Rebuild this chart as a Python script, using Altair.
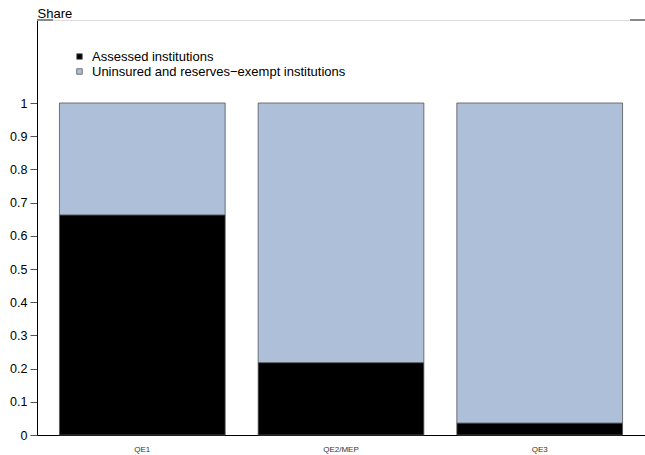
import altair as alt
import pandas as pd

programs = ["QE1", "QE2/MEP", "QE3"]
assessed = [0.663, 0.218, 0.036]
uninsured = [0.337, 0.782, 0.964]
series = ["Assessed institutions", "Uninsured and reserves\u2212exempt institutions"]
colors = ["#000000", "#adbfd9"]
y_ticks = [0, 0.1, 0.2, 0.3, 0.4, 0.5, 0.6, 0.7, 0.8, 0.9, 1]

rows = []
for i, p in enumerate(programs):
    rows.append({"program": p, "series": series[0], "value": assessed[i], "ord": 0})
    rows.append({"program": p, "series": series[1], "value": uninsured[i], "ord": 1})
df = pd.DataFrame(rows)

FONT = "Liberation Sans"

bars = alt.Chart(df).mark_bar(stroke="#555555", strokeWidth=0.8).encode(
    x=alt.X("program:N", sort=programs,
            scale=alt.Scale(paddingInner=0.166, paddingOuter=0.113),
            axis=alt.Axis(title=None, ticks=False, labelAngle=0, labelFontSize=8,
                          labelColor="#333333", labelPadding=10, domainColor="#000000",
                          domainWidth=1, labelFont=FONT)),
    y=alt.Y("value:Q", stack="zero",
            scale=alt.Scale(domain=[0, 1.25], nice=False, zero=True),
            axis=alt.Axis(values=y_ticks, title="Share", titleAngle=0, titleX=0, titleY=-3,
                          titleAlign="left", titleBaseline="alphabetic", titleFontSize=13,
                          titleFontWeight="normal", titleFont=FONT, titleColor="#000000",
                          labelFontSize=12.5, labelFont=FONT, labelColor="#000000",
                          tickSize=7, tickColor="#555555", labelPadding=3,
                          domainColor="#000000", grid=False,
                          labelExpr="datum.value == 0 ? '0' : format(datum.value, '.1~f')")),
    color=alt.Color("series:N", sort=series,
                    scale=alt.Scale(domain=series, range=colors),
                    legend=alt.Legend(title=None, orient="none", legendX=36, legendY=30,
                                      symbolType="square", symbolSize=30,
                                      symbolStrokeColor="#555555", symbolStrokeWidth=0.8,
                                      labelFontSize=13, labelFont=FONT, labelColor="#000000",
                                      labelLimit=0, rowPadding=1, labelOffset=6)),
    order=alt.Order("ord:Q", sort="ascending"),
)

tick_left = alt.Chart(df).mark_rule(color="#888888", strokeWidth=1.5).encode(
    x=alt.value(0), x2=alt.value(16), y=alt.value(0)
)
tick_right = alt.Chart(df).mark_rule(color="#888888", strokeWidth=1.5).encode(
    x=alt.value(593), x2=alt.value(608), y=alt.value(0)
)

chart = alt.layer(bars, tick_left, tick_right).properties(
    width=608, height=415,
    autosize=alt.AutoSizeParams(type="none"),
    padding={"left": 37, "top": 20, "right": 0, "bottom": 20},
).configure_view(stroke=None).configure(font=FONT)

chart.save("out.html", embed_options={"renderer": "svg", "actions": False})
